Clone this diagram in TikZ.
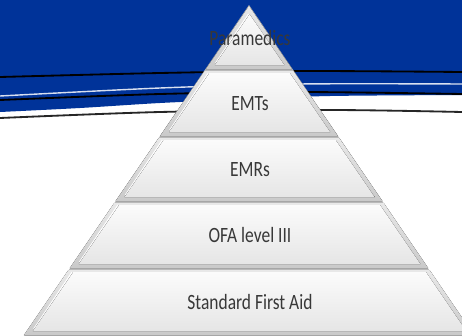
\documentclass[tikz,border=0pt]{standalone}
\usepackage{fontspec}
\setmainfont{Carlito}
\usepackage{tikz}
\usetikzlibrary{positioning,backgrounds}

\definecolor{slideblue}{RGB}{0,51,153}
\tikzset{
    tierlabel/.style={font=\fontsize{15.5}{18}\selectfont, text=black!78, inner sep=0pt, xscale=0.8},
    wave/.style={line width=1.3pt, line cap=round},
}

\begin{document}
\begin{tikzpicture}[x=0.025cm, y=-0.025cm]
    \useasboundingbox (0,0) rectangle (462,336);
    \clip (0,0) rectangle (462,336);
    \fill[white] (0,0) rectangle (462,336);

    %% Blue band with the wavy lines
    \fill[slideblue] (0,0) -- (462,0) -- (462,95)
        -- plot[smooth] coordinates {(462,95) (330,96) (250,99) (160,103) (80,108) (0,112)} -- cycle;
    \draw[wave, black] plot[smooth] coordinates {(0,77) (160,73) (300,71) (462,72)};
    \draw[wave, white!85!slideblue, line width=1pt] plot[smooth] coordinates {(0,96) (160,88) (300,84) (462,84)};
    \draw[wave, black] plot[smooth] coordinates {(0,100) (160,94) (300,92) (462,94)};
    \draw[wave, black!85] plot[smooth] coordinates {(0,118) (160,112) (330,110) (462,112)};

    %% Pyramid, one tier at a time
    \fill[gray!55] (249,5) -- (24,336) -- (474,336) -- cycle;
    \foreach \yt/\yb/\lbl/\nm in {6/70/Paramedics/para, 70/137/EMTs/emts,
            137/202/EMRs/emrs, 202/269/OFA level III/ofa, 269/336/Standard First Aid/sfa} {
        \pgfmathsetmacro\wt{0.6839*(\yt+1-6)}
        \pgfmathsetmacro\wb{0.6839*(\yb-1-6)}
        \fill[top color=gray!18, bottom color=gray!42]
            ({249-\wt},{\yt+1}) -- ({249+\wt},{\yt+1}) -- ({249+\wb},{\yb-1}) -- ({249-\wb},{\yb-1}) -- cycle;
        % inner bevel face
        \pgfmathsetmacro\yi{max(\yt+3,14)}
        \pgfmathsetmacro\yj{\yb-5}
        \pgfmathsetmacro\wi{0.6839*(\yi-6)-5}
        \pgfmathsetmacro\wj{0.6839*(\yj-6)-5}
        \draw[white, line width=0.8pt] ({249-\wi},\yi) -- ({249-\wj+2},{\yj-2});
        \fill[top color=white!97!gray, bottom color=gray!20]
            ({249-\wi+1.2},\yi) -- ({249+\wi},\yi) -- ({249+\wj},\yj) -- ({249-\wj+1.2},\yj) -- cycle;
        \node[tierlabel] (\nm) at (250,{(\yt+\yb)/2}) {\lbl};
    }
\end{tikzpicture}
\end{document}
